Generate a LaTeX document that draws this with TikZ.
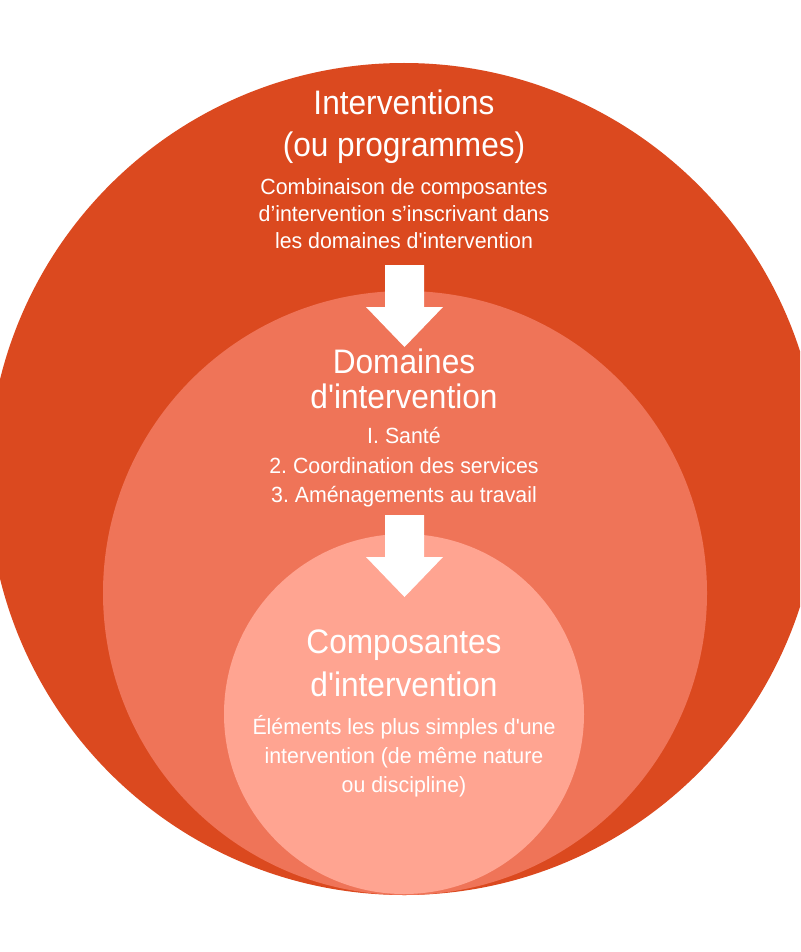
\documentclass[tikz,border=0pt]{standalone}
\usepackage{fontspec}
\setmainfont{Liberation Sans}
\newfontfamily\titlefont[FakeStretch=0.93]{Liberation Sans}
\newfontfamily\bodyfont[FakeStretch=0.97]{Liberation Sans}
\definecolor{outerc}{HTML}{DB491F}
\definecolor{midc}{HTML}{EF7458}
\definecolor{innerc}{HTML}{FFA491}
\frenchspacing
\tikzset{
  ttl/.style={anchor=base, inner sep=0pt, text=white, font=\titlefont\fontsize{34}{40}\selectfont},
  bdy/.style={anchor=base, inner sep=0pt, text=white, font=\bodyfont\fontsize{22}{27}\selectfont},
  blockarrow/.style={fill=white, draw=none}
}
\begin{document}
\begin{tikzpicture}[x=1pt,y=-1pt]
\useasboundingbox (0,0) rectangle (800,952);
\clip (0,0) rectangle (800,952);
\fill[white] (0,0) rectangle (800,952);
% circles
\fill[outerc] (404,479) circle[radius=416];
\fill[midc] (405,593) circle[radius=302];
\fill[innerc] (404,714) circle[radius=180];
% arrows
\coordinate (a1) at (404.5,265);
\coordinate (a2) at (404.5,515);
\foreach \c in {a1,a2}{
  \fill[blockarrow] ([xshift=-19.5pt]\c) -- ([xshift=19.5pt]\c) -- ([xshift=19.5pt,yshift=-42pt]\c)
    -- ([xshift=38.5pt,yshift=-42pt]\c) -- ([yshift=-82pt]\c) -- ([xshift=-38.5pt,yshift=-42pt]\c)
    -- ([xshift=-19.5pt,yshift=-42pt]\c) -- cycle;
}
% outer texts
\node[ttl] (t1a) at (404,115) {Interventions};
\node[ttl] (t1b) at (404,157) {(ou programmes)};
\node[bdy] (b1a) at (404,194) {Combinaison de composantes};
\node[bdy] (b1b) at (404,221) {d’intervention s’inscrivant dans};
\node[bdy] (b1c) at (404,248) {les domaines d'intervention};
% middle texts
\node[ttl] (t2a) at (404,373) {Domaines};
\node[ttl] (t2b) at (404,408) {d'intervention};
\node[bdy] (b2a) at (404,443) {I. Santé};
\node[bdy] (b2b) at (404,473) {2. Coordination des services};
\node[bdy] (b2c) at (404,502) {3. Aménagements au travail};
% inner texts
\node[ttl] (t3a) at (404,653) {Composantes};
\node[ttl] (t3b) at (404,696) {d'intervention};
\node[bdy] (b3a) at (404,734) {Éléments les plus simples d'une};
\node[bdy] (b3b) at (404,763) {intervention (de même nature};
\node[bdy] (b3c) at (404,792) {ou discipline)};
\end{tikzpicture}
\end{document}
